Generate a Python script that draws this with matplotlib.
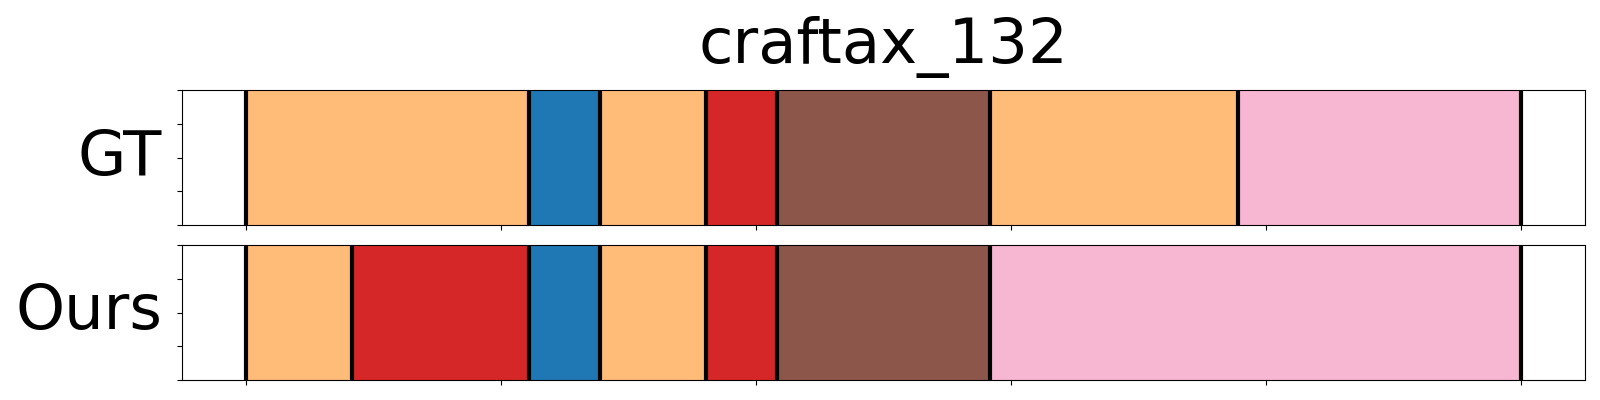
import numpy as np
import matplotlib
matplotlib.use("Agg")
import matplotlib.pyplot as plt

title = "craftax_132"
row_names = ["GT", "Ours"]
total_steps = 36

gt_actions = ["orange", "blue", "orange", "red", "brown", "orange", "pink"]
gt_lengths = [8, 2, 3, 2, 6, 7, 8]

ours_actions = ["orange", "red", "blue", "orange", "red", "brown", "pink"]
ours_lengths = [3, 5, 2, 3, 2, 6, 15]

palette = {
    "orange": "#ffbb78",
    "blue": "#1f77b4",
    "red": "#d62728",
    "brown": "#8c564b",
    "pink": "#f7b6d2",
}

fig = plt.figure(figsize=(16, 4), dpi=100)
ax1 = fig.add_axes([0.1136, 0.4375, 0.877, 0.3365])
ax2 = fig.add_axes([0.1136, 0.05, 0.877, 0.3375])

for ax, name, acts, lens in [(ax1, row_names[0], gt_actions, gt_lengths),
                             (ax2, row_names[1], ours_actions, ours_lengths)]:
    widths = np.array(lens) / total_steps
    lefts = np.concatenate([[0], np.cumsum(widths)[:-1]])
    ax.barh(0.5, widths, left=lefts, height=1.0,
            color=[palette[a] for a in acts], edgecolor="none")
    bounds = np.concatenate([[0], np.cumsum(widths)])
    for b in bounds:
        ax.axvline(b, color="black", linewidth=3)
    ax.set_ylim(0, 1)
    ax.set_xlim(-0.05, 1.05)
    ax.set_yticks([0, 0.25, 0.5, 0.75, 1.0])
    ax.set_yticklabels([])
    ax.set_xticks([0, 0.2, 0.4, 0.6, 0.8, 1.0])
    ax.set_xticklabels([])
    ax.set_ylabel(name, fontsize=45, rotation=0, ha="right", va="center")
    ax.yaxis.set_label_coords(-0.014, 0.5)

ax1.set_title(title, fontsize=45, pad=20)

fig.savefig("out.png", dpi=100)
